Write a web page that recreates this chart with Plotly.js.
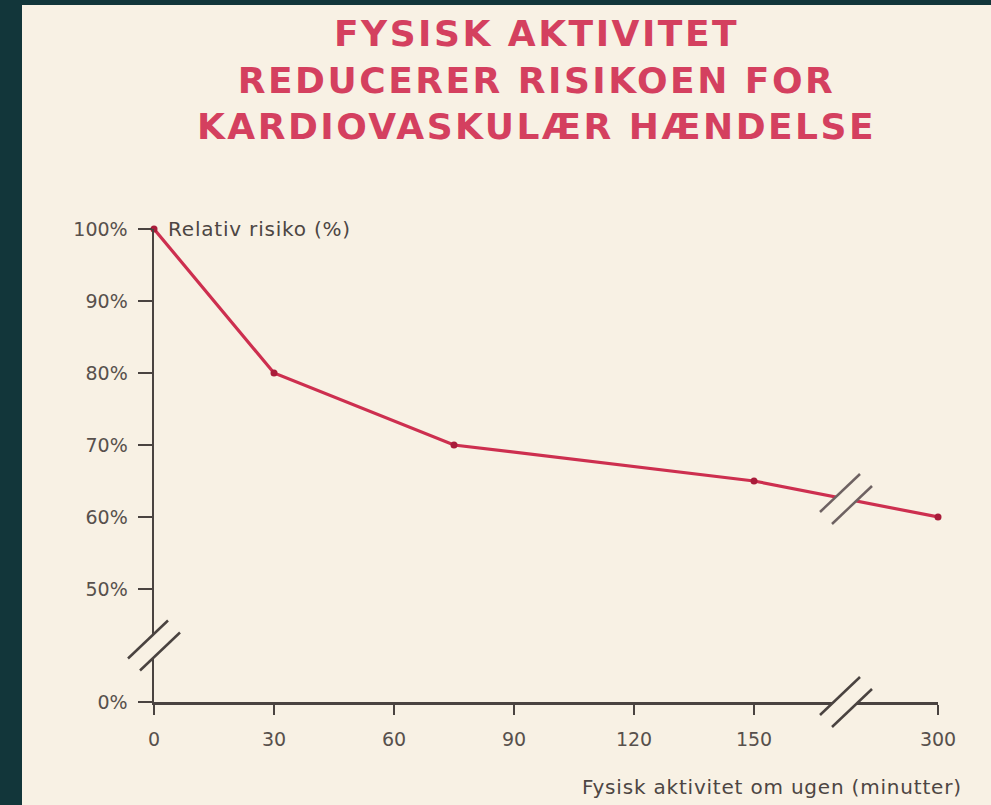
<!DOCTYPE html>
<html>
<head>
<meta charset="utf-8">
<script src="https://cdn.plot.ly/plotly-3.0.1.min.js"></script>
<style>
  html, body { margin: 0; padding: 0; background: #12363a; width: 991px; height: 805px; overflow: hidden; }
  #chart { position: absolute; left: 22px; top: 5px; width: 969px; height: 800px; }
  .gtitle { letter-spacing: 2.5px; }
  .annotation-text { letter-spacing: 0.8px; }
</style>
</head>
<body>
<div id="chart"></div>
<script>
// ---- data ----
const minutes = [0, 30, 75, 150, 300];
const risk = [100, 80, 70, 65, 60];
const xTickValues = [0, 30, 60, 90, 120, 150, 300];
const xTickLabels = ['0', '30', '60', '90', '120', '150', '300'];
const yTickValues = [0, 50, 60, 70, 80, 90, 100];
const yTickLabels = ['0%', '50%', '60%', '70%', '80%', '90%', '100%'];
const titleText = 'FYSISK AKTIVITET<br>REDUCERER RISIKOEN FOR<br>KARDIOVASKULÆR HÆNDELSE';
const yLabel = 'Relativ risiko (%)';
const xLabel = 'Fysisk aktivitet om ugen (minutter)';

// ---- broken-axis scales ----
const xBreak = {from: 150, to: 300, span: 46};      // 150..300 squeezed into 46 units
const yBreak = {from: 0, to: 50, span: 15.7};       // 0..50 squeezed into 15.7 units
function xPos(m) { return m <= xBreak.from ? m : xBreak.from + (m - xBreak.from) * xBreak.span / (xBreak.to - xBreak.from); }
function yPos(v) { return v >= yBreak.to ? v : yBreak.to - (yBreak.to - v) * yBreak.span / (yBreak.to - yBreak.from); }

const axisColor = '#4a4340';
const lineColor = '#cd2f4f';
const cream = '#f8f1e4';

const xMid = (xPos(xBreak.from) + xPos(xBreak.to)) / 2;
const yMid = (yPos(yBreak.from) + yPos(yBreak.to)) / 2;
const lineMid = (risk[3] + risk[4]) / 2;

function breakMark(xref, xanchor, yref, yanchor, color) {
  const base = {xref: xref, yref: yref, xsizemode: 'pixel', ysizemode: 'pixel', xanchor: xanchor, yanchor: yanchor, layer: 'above'};
  return [
    Object.assign({}, base, {type: 'path', path: 'M -26,-13 L 14,25 L 26,13 L -14,-25 Z', fillcolor: cream, line: {width: 0}}),
    Object.assign({}, base, {type: 'line', x0: -26, y0: -13, x1: 14, y1: 25, line: {color: color, width: 2.5}}),
    Object.assign({}, base, {type: 'line', x0: -14, y0: -25, x1: 26, y1: 13, line: {color: color, width: 2.5}})
  ];
}

const shapes = [].concat(
  breakMark('paper', 0, 'y', yMid, axisColor),
  breakMark('x', xMid, 'paper', 0, axisColor),
  breakMark('x', xMid, 'y', lineMid, '#6e6262')
);

const trace = {
  x: minutes.map(xPos),
  y: risk.map(yPos),
  type: 'scatter',
  mode: 'lines+markers',
  line: {color: lineColor, width: 3.2},
  marker: {color: '#a91c3a', size: 7},
  cliponaxis: false,
  hoverinfo: 'skip'
};

const textFamily = '"DejaVu Sans", sans-serif';
const tickFont = {family: textFamily, size: 19, color: '#57504c'};

const layout = {
  width: 969,
  height: 800,
  paper_bgcolor: cream,
  plot_bgcolor: cream,
  margin: {l: 132, r: 53, t: 224, b: 103},
  showlegend: false,
  title: {
    text: titleText,
    xref: 'container', x: 0.531, xanchor: 'center',
    yref: 'container', y: 0.949, yanchor: 'top',
    font: {family: textFamily, size: 36, weight: 'bold', color: '#d4405f'}
  },
  xaxis: {
    range: [0, xPos(300)],
    tickmode: 'array',
    tickvals: xTickValues.map(xPos),
    ticktext: xTickLabels,
    showgrid: false, zeroline: false,
    showline: true, linecolor: axisColor, linewidth: 2.5,
    ticks: 'outside', ticklen: 10, tickwidth: 2.5, tickcolor: axisColor,
    ticklabelstandoff: 9,
    tickfont: tickFont,
    fixedrange: true
  },
  yaxis: {
    range: [yPos(0), 100],
    tickmode: 'array',
    tickvals: yTickValues.map(yPos),
    ticktext: yTickLabels,
    showgrid: false, zeroline: false,
    showline: true, linecolor: axisColor, linewidth: 2.5,
    ticks: 'outside', ticklen: 14, tickwidth: 2.5, tickcolor: axisColor,
    ticklabelstandoff: 6,
    tickfont: tickFont,
    fixedrange: true
  },
  shapes: shapes,
  annotations: [
    {text: yLabel, xref: 'paper', x: 0, xanchor: 'left', xshift: 12, yref: 'y', y: 100, yanchor: 'middle',
     showarrow: false, font: {family: textFamily, size: 20, color: '#4d4643'}},
    {text: xLabel, xref: 'paper', x: 1, xanchor: 'right', xshift: 26, yref: 'paper', y: 0, yanchor: 'middle', yshift: -85,
     showarrow: false, font: {family: textFamily, size: 20, color: '#4d4643'}}
  ]
};

Plotly.newPlot('chart', [trace], layout, {displayModeBar: false, staticPlot: true});
</script>
</body>
</html>
